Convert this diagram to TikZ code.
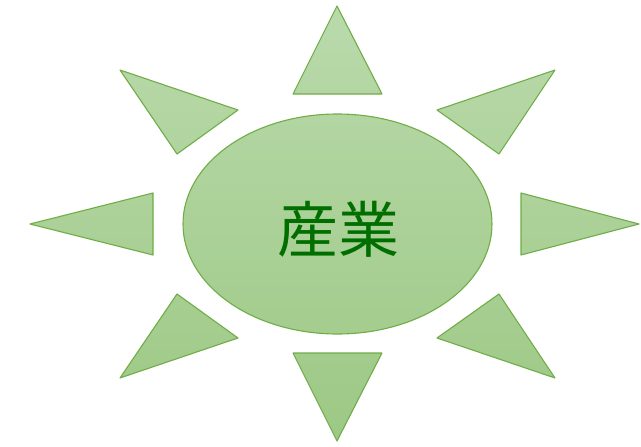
\documentclass[tikz,border=0pt]{standalone}
\usepackage{fontspec}
\newfontfamily\cjk{Noto Sans CJK JP}
\definecolor{gtop}{HTML}{BADAAC}
\definecolor{gbot}{HTML}{9CC884}
\definecolor{edge}{HTML}{70AD47}
\definecolor{txt}{HTML}{006F00}
\tikzset{ray/.style={draw=edge,line width=1.1pt,line join=round}}
\begin{document}
\begin{tikzpicture}[x=1pt,y=-1pt]
\useasboundingbox (0,0) rectangle (641,447);
% top
\path[ray,top color=gbot!1!gtop,bottom color=gbot!21!gtop] (337,6) -- (382,94) -- (293,94) -- cycle;
% bottom
\path[ray,top color=gbot!79!gtop,bottom color=gbot!99!gtop] (293,353) -- (382,353) -- (337,441) -- cycle;
% left
\path[ray,top color=gbot!43!gtop,bottom color=gbot!57!gtop] (30,224) -- (153,193) -- (153,255) -- cycle;
% right
\path[ray,top color=gbot!43!gtop,bottom color=gbot!57!gtop] (639,224) -- (521,193) -- (521,255) -- cycle;
% top-left
\path[ray,top color=gbot!16!gtop,bottom color=gbot!34!gtop] (120,70) -- (238,110) -- (177,154) -- cycle;
% top-right
\path[ray,top color=gbot!16!gtop,bottom color=gbot!34!gtop] (555,70) -- (437,110) -- (499,154) -- cycle;
% bottom-left
\path[ray,top color=gbot!66!gtop,bottom color=gbot!85!gtop] (177,294) -- (238,338) -- (120,378) -- cycle;
% bottom-right
\path[ray,top color=gbot!66!gtop,bottom color=gbot!85!gtop] (499,294) -- (437,338) -- (555,378) -- cycle;
% ellipse
\path[ray,top color=gbot!26!gtop,bottom color=gbot!75!gtop] (337.5,224) ellipse [x radius=154.5, y radius=110];
\node[text=txt,font=\cjk\fontsize{61}{66}\selectfont,inner sep=0pt] (t) at (338,229) {産業};
\end{tikzpicture}
\end{document}
